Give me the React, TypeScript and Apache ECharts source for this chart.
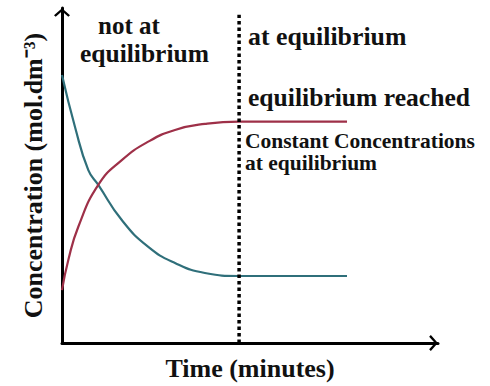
import React, { useEffect, useRef } from "react";
import * as echarts from "echarts";

const reactantX = [0, 3.46, 7.0, 9.65, 15.9, 22.95, 30.05, 38.0, 47.1, 75.8];
const reactantY = [80, 64.5, 51.6, 47.2, 36.7, 28.7, 23.9, 20.9, 20, 20];
const productX = [0, 1.68, 4.34, 9.65, 15.9, 22.95, 30.05, 38.0, 47.1, 75.8];
const productY = [15.8, 24.8, 34.7, 47.2, 54.6, 60.1, 63.6, 65.4, 66.1, 66.1];
const equilibriumTime = 47.1;
const dividerTop = 98;

const annotationTexts = [
  "not at",
  "equilibrium",
  "at equilibrium",
  "equilibrium reached",
  "Constant Concentrations",
  "at equilibrium",
];
const annotationPos = [
  [98, 25, 25],
  [80, 53, 25.5],
  [248, 36, 25.8],
  [248, 97, 25.6],
  [245, 141, 21.5],
  [245, 163, 21.5],
];

const FONT = "Liberation Serif";
const CHEVRON = "path://M0,7 L8,0 L16,7 L14.3,8.7 L8,3 L1.7,8.7 Z";

export default function App() {
  const ref = useRef<HTMLDivElement>(null);
  useEffect(() => {
    if (!ref.current) return;
    const chart = echarts.init(ref.current, null, { renderer: "svg" });
    const axisLine = {
      show: true,
      symbol: ["none", CHEVRON],
      symbolSize: [16, 9],
      symbolOffset: [0, -4.5],
      lineStyle: { color: "#000", width: 3 },
    };
    chart.setOption({
      animation: false,
      backgroundColor: "#fff",
      title: annotationTexts.map((t, i) => {
        const [x, y, s] = annotationPos[i];
        return {
          text: t,
          left: x,
          top: y - s / 2,
          padding: 0,
          textStyle: {
            fontFamily: FONT,
            fontWeight: "bold",
            fontSize: s,
            color: "#111",
            lineHeight: s,
          },
        };
      }),
      grid: { left: 62, right: 52, top: 8, bottom: 43 },
      xAxis: {
        type: "value",
        min: 0,
        max: 100,
        axisLine,
        axisTick: { show: false },
        axisLabel: { show: false },
        splitLine: { show: false },
        name: "Time (minutes)",
        nameLocation: "middle",
        nameGap: 12,
        nameTextStyle: {
          fontFamily: FONT,
          fontWeight: "bold",
          fontSize: 26,
          color: "#111",
          verticalAlign: "top",
        },
      },
      yAxis: {
        type: "value",
        min: 0,
        max: 100,
        axisLine,
        axisTick: { show: false },
        axisLabel: { show: false },
        splitLine: { show: false },
        name: "Concentration (mol.dm⁻³)",
        nameLocation: "middle",
        nameRotate: 90,
        nameGap: 16,
        nameTextStyle: {
          fontFamily: FONT,
          fontWeight: "bold",
          fontSize: 26,
          color: "#111",
        },
      },
      series: [
        {
          type: "line",
          data: reactantX.map((x, i) => [x, reactantY[i]]),
          smooth: 0.5,
          showSymbol: false,
          lineStyle: { color: "#2f6f7a", width: 2.2 },
          z: 3,
        },
        {
          type: "line",
          data: productX.map((x, i) => [x, productY[i]]),
          smooth: 0.5,
          showSymbol: false,
          lineStyle: { color: "#9e3048", width: 2.2 },
          z: 3,
        },
        {
          type: "line",
          data: [
            [equilibriumTime, 0],
            [equilibriumTime, dividerTop],
          ],
          showSymbol: false,
          lineStyle: { color: "#000", width: 3.5, type: [3.5, 3] },
          z: 4,
        },
      ],
    });
    return () => chart.dispose();
  }, []);
  return <div ref={ref} style={{ width: 490, height: 386, position: "absolute", left: 0, top: 0 }} />;
}
